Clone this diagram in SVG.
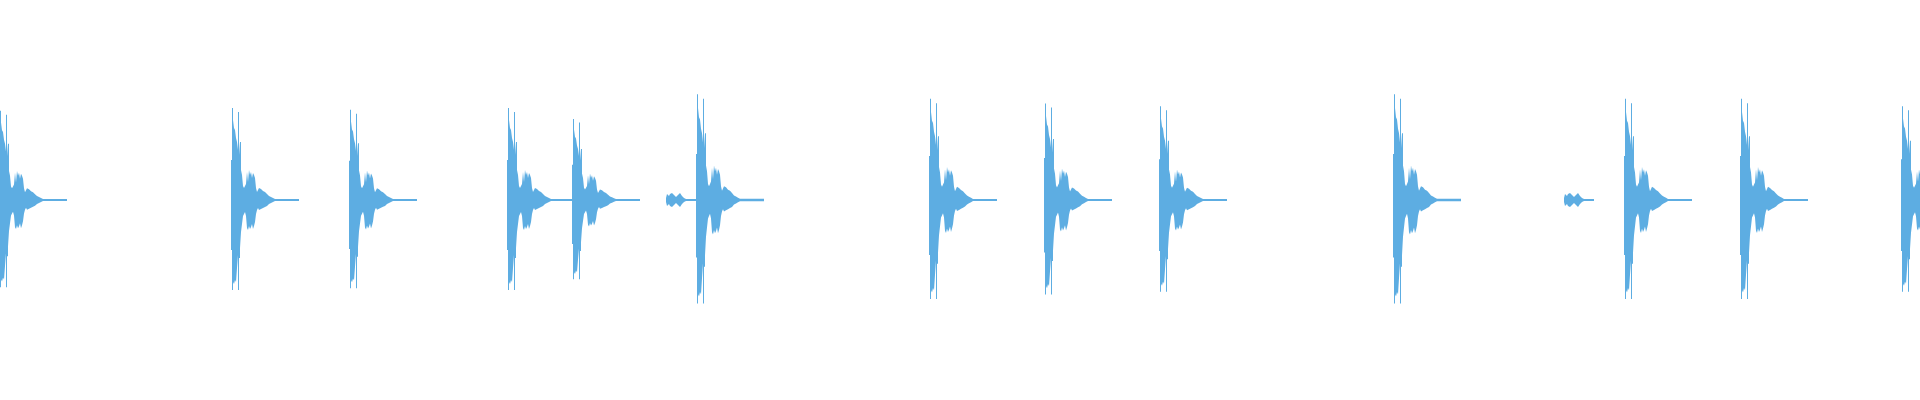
<svg xmlns="http://www.w3.org/2000/svg" width="1920" height="400" viewBox="0 0 1920 400">
<style>.w{fill:#5dade2}</style>
<defs>
<polygon id="b" class="w" points="0,0 0,-40 1,-40 1,-92 2,-92 2,-80 3,-72 4,-70 5,-62 6,-58 7,-50 7,-88 8,-88 8,-45 9,-58 10,-58 10,-30 11,-25 12,-14 13,-12 14,-14 15,-16 16,-28 17,-18 18,-30 19,-25 20,-28 21,-22 22,-27 23,-25 24,-22 25,-12 26,-8 27,-10 28,-12 30,-11 32,-9 34,-8 36,-6 38,-4 40,-3 42,-2 44,-1 68,-1 68,1 44,1 42,2 40,3 38,4 36,6 34,7 32,8 30,9 28,10 27,8 26,10 25,14 24,22 23,26 22,29 21,24 20,27 19,29 18,26 17,30 16,28 15,16 14,12 13,14 12,16 11,24 10,32 9,48 9,58 8,58 8,90 7,90 7,55 6,68 5,82 4,80 3,84 2,82 2,90 1,90 1,50 0,50"/>
<polygon id="s" class="w" points="0,-2 1,-6 3,-4 4,-6 6,-7 8,-5 10,-3 12,-5 14,-7 16,-4 18,-2 20,-1 30,-1 30,1 20,1 18,2 16,4 14,7 12,5 10,3 8,5 6,7 4,6 3,4 1,6 0,2"/>
</defs>
<g id="waveform">
<use href="#b" transform="translate(-1,200) scale(1,0.97)"/>
<use href="#b" transform="translate(231,200) scale(1,1)"/>
<use href="#b" transform="translate(349,200) scale(1,0.98)"/>
<use href="#b" transform="translate(507,200) scale(1,1)"/>
<use href="#b" transform="translate(572,200) scale(1,0.88)"/>
<use href="#s" transform="translate(666,200)"/>
<use href="#b" transform="translate(696,200) scale(1,1.15)"/>
<use href="#b" transform="translate(929,200) scale(1,1.1)"/>
<use href="#b" transform="translate(1044,200) scale(1,1.05)"/>
<use href="#b" transform="translate(1159,200) scale(1,1.02)"/>
<use href="#b" transform="translate(1393,200) scale(1,1.15)"/>
<use href="#s" transform="translate(1564,200)"/>
<use href="#b" transform="translate(1624,200) scale(1,1.1)"/>
<use href="#b" transform="translate(1740,200) scale(1,1.1)"/>
<use href="#b" transform="translate(1901,200) scale(1,1.02)"/>
</g>
</svg>
